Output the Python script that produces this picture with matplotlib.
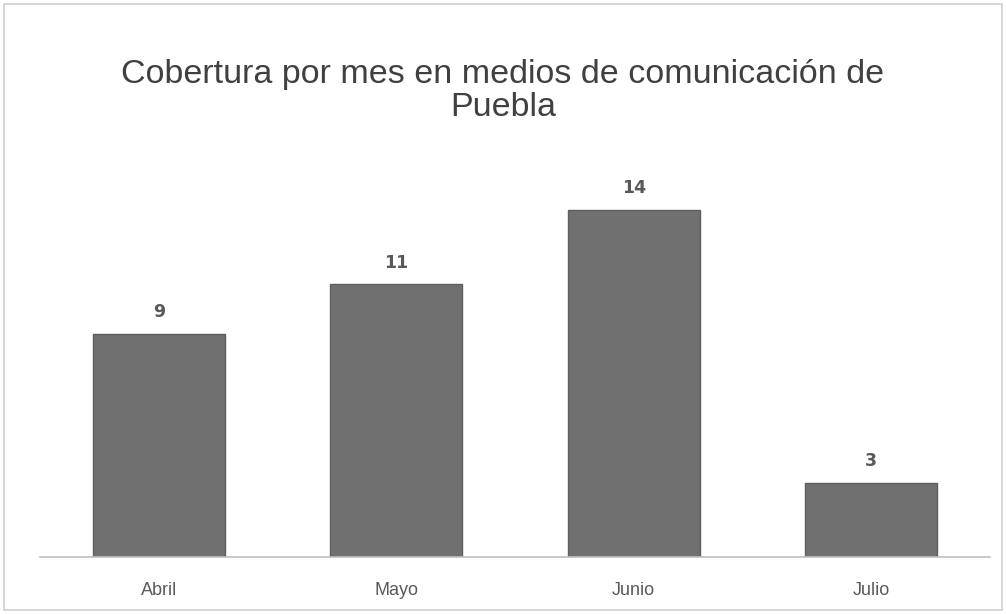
import matplotlib
matplotlib.use("Agg")
import matplotlib.pyplot as plt
from matplotlib.patches import Rectangle

meses = ["Abril", "Mayo", "Junio", "Julio"]
cobertura = [9, 11, 14, 3]

TITLE = "Cobertura por mes en medios de comunicación de\nPuebla"
FONT = ["Liberation Sans Narrow", "Liberation Sans", "DejaVu Sans"]
BAR_COLOR = "#707070"
TEXT_COLOR = "#595959"

fig = plt.figure(figsize=(10.06, 6.14), dpi=100)
ax = fig.add_axes([40 / 1006, 57 / 614, 950 / 1006, 397 / 614])

x = list(range(len(meses)))
ax.bar(x, cobertura, width=0.555, color=BAR_COLOR, edgecolor="#5e5e5e", linewidth=1)

for xi, v in zip(x, cobertura):
    ax.annotate(str(v), (xi, v), xytext=(0, 9), textcoords="offset points",
                ha="center", va="bottom", fontsize=12.5, fontweight="bold",
                color=TEXT_COLOR, family=["DejaVu Sans"])

ax.set_xlim(-0.5, 3.5)
ax.set_ylim(0, 16)
ax.set_xticks(x)
ax.set_xticklabels(meses, fontsize=13, color=TEXT_COLOR, family=FONT)
ax.tick_params(axis="x", length=0, pad=18)
ax.set_yticks([])
for side in ["top", "left", "right"]:
    ax.spines[side].set_visible(False)
ax.spines["bottom"].set_color("#bfbfbf")
ax.spines["bottom"].set_linewidth(1.2)

fig.text(0.5, 1 - 91 / 614, TITLE, ha="center", va="center", fontsize=24.5,
         color="#404040", family=FONT, linespacing=1.1)

# light frame around the chart
fig.patches.append(Rectangle((4 / 1006, 4 / 614), 998 / 1006, 606 / 614,
                             transform=fig.transFigure, fill=False,
                             edgecolor="#d0d0d0", linewidth=1.2))

fig.savefig("out.png", dpi=100)
